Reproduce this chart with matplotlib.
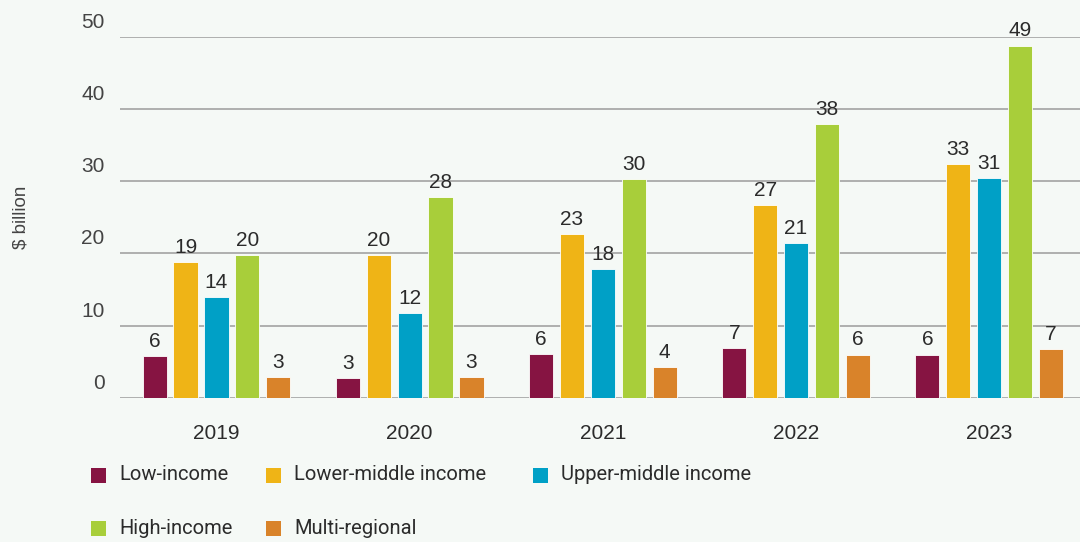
import numpy as np
import matplotlib.pyplot as plt
from matplotlib.patches import Rectangle
from matplotlib.transforms import ScaledTranslation

# data ($ billion)
years = ['2019', '2020', '2021', '2022', '2023']
series = ['Low-income', 'Lower-middle income', 'Upper-middle income',
          'High-income', 'Multi-regional']
low_income = [5.8, 2.8, 6.1, 6.9, 6.0]
lower_middle = [18.8, 19.8, 22.7, 26.7, 32.4]
upper_middle = [13.9, 11.8, 17.9, 21.4, 30.4]
high_income = [19.8, 27.8, 30.3, 37.9, 48.8]
multi_regional = [2.9, 2.9, 4.3, 6.0, 6.8]
labels = [[6, 3, 6, 7, 6], [19, 20, 23, 27, 33], [14, 12, 18, 21, 31],
          [20, 28, 30, 38, 49], [3, 3, 4, 6, 7]]
colors = ['#861442', '#efb416', '#00a0c6', '#a8ce3a', '#d9832a']

bg = '#f5f9f6'
txt = '#2b2b2b'
W, H = 1080, 542

fig = plt.figure(figsize=(10.8, 5.42), dpi=100, facecolor=bg)
ax = fig.add_axes([0.111, 0.266, 0.889, 0.666], facecolor=bg)

x = np.arange(len(years))
step = 0.16
width = 0.125
allvals = [low_income, lower_middle, upper_middle, high_income, multi_regional]
for i, vals in enumerate(allvals):
    pos = x + (i - 2) * step
    ax.bar(pos, vals, width, color=colors[i], edgecolor='#ffffff',
           linewidth=0.6, zorder=3)
    for px, v, lab in zip(pos, vals, labels[i]):
        ax.text(px, v + 0.7, str(lab), ha='center', va='bottom',
                fontsize=15, color=txt, family='Liberation Sans', zorder=4)

ax.set_xlim(-0.5, 4.47)
ax.set_ylim(0, 50)
ax.set_yticks([0, 10, 20, 30, 40, 50])
ax.set_xticks(x)
ax.set_xticklabels(years, fontsize=15, color=txt, family='Liberation Sans')
ax.tick_params(axis='both', length=0)
ax.tick_params(axis='x', pad=19)
ax.tick_params(axis='y', pad=11, labelsize=15, labelcolor='#444444')
for lab in ax.get_yticklabels():
    lab.set_family('Liberation Sans')
    lab.set_verticalalignment('bottom')
    lab.set_transform(lab.get_transform() + ScaledTranslation(0, 5 / 100, fig.dpi_scale_trans))

ax.grid(axis='y', color='#afafaf', linewidth=1.4, zorder=0)
for s in ax.spines.values():
    s.set_visible(False)

ax.set_ylabel('$ billion', fontsize=13.5, color='#444444', family='Liberation Sans')
ax.yaxis.set_label_coords(-0.094, 0.5)

# legend, laid out in two rows like the original
leg_x = [91, 266, 533, 91, 266]
leg_y = [475, 475, 475, 528, 528]
for i, name in enumerate(series):
    fig.add_artist(Rectangle(((leg_x[i]) / W, 1 - (leg_y[i] + 7.5) / H), 15 / W, 15 / H,
                             transform=fig.transFigure, facecolor=colors[i],
                             edgecolor='none'))
    fig.text((leg_x[i] + 28) / W, 1 - leg_y[i] / H, name, ha='left', va='center',
             fontsize=14.5, color=txt, family=['Roboto', 'DejaVu Sans'])

plt.savefig('out.png', dpi=100, facecolor=bg)
